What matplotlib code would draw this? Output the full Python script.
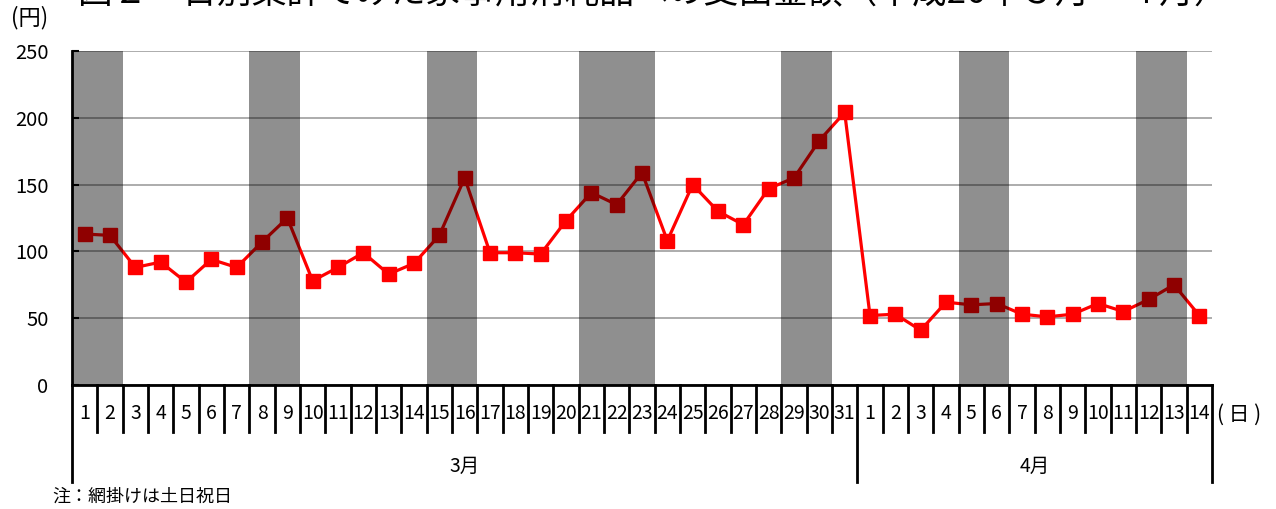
"""
Daily spending on household consumables, March-April, with weekend/holiday shading.
"""
import numpy as np
import matplotlib
matplotlib.use("Agg")
import matplotlib.pyplot as plt

plt.rcParams['font.family'] = ['Noto Sans CJK JP', 'DejaVu Sans']

# data
march_days = list(range(1, 32))
april_days = list(range(1, 15))
march_values = [113, 112, 88, 92, 77, 94, 88, 107, 125, 78,
                88, 99, 83, 91, 112, 155, 99, 99, 98, 123,
                144, 135, 159, 108, 150, 130, 120, 147, 155, 183, 204]
april_values = [52, 53, 41, 62, 60, 61, 53, 51, 53, 61, 55, 64, 75, 52]
march_holidays = [1, 2, 8, 9, 15, 16, 21, 22, 23, 29, 30]
april_holidays = [5, 6, 12, 13]
month_names = ['3月', '4月']
y_ticks = [0, 50, 100, 150, 200, 250]

title = '図２　日別集計でみた家事用消耗品への支出金額（平成26年３月～４月）'
note = '注：網掛けは土日祝日'

values = march_values + april_values
day_labels = [str(d) for d in march_days + april_days]
n = len(values)
x = np.arange(n)
holiday_idx = [d - 1 for d in march_holidays] + [len(march_days) + d - 1 for d in april_holidays]

fig = plt.figure(figsize=(12.76, 5.09), dpi=100)
ax = fig.add_axes([72 / 1276, 1 - 385 / 509, (1212 - 72) / 1276, 334 / 509])

ax.plot(x, values, color='#ff0000', linewidth=2.3, marker='s', markersize=9.5,
        zorder=3, clip_on=False)

# shading drawn on top, semi-transparent (darkens the line beneath)
for i in holiday_idx:
    ax.axvspan(i - 0.5, i + 0.5, color='black', alpha=0.44, linewidth=0, zorder=4)

ax.set_xlim(-0.5, n - 0.5)
ax.set_ylim(0, 250)
ax.set_yticks(y_ticks)
ax.grid(axis='y', color='#a6a6a6', linewidth=1.3, zorder=1)
ax.set_axisbelow(True)

for s in ['top', 'right']:
    ax.spines[s].set_visible(False)
ax.spines['left'].set_linewidth(2)
ax.spines['bottom'].set_linewidth(2)
ax.spines['left'].set_zorder(5)
ax.spines['bottom'].set_zorder(5)

ax.tick_params(axis='y', direction='in', length=5, width=1.5, labelsize=14.5, pad=17)
ax.tick_params(axis='x', bottom=False, labelbottom=False)

# category axis: day labels with separators, month groups below
trans = ax.get_xaxis_transform()
n_march = len(march_days)
for b in np.arange(n + 1) - 0.5:
    long_line = b in (-0.5, n_march - 0.5, n - 0.5)
    ax.plot([b, b], [0, -0.29 if long_line else -0.141], color='black', linewidth=2,
            transform=trans, clip_on=False, zorder=5)
for i, lab in enumerate(day_labels):
    ax.text(i, -0.084, lab, transform=trans, ha='center', va='center', fontsize=14)
ax.text((n_march - 1) / 2, -0.245, month_names[0], transform=trans,
        ha='center', va='center', fontsize=14)
ax.text(n_march + (len(april_days) - 1) / 2, -0.245, month_names[1], transform=trans,
        ha='center', va='center', fontsize=14)
ax.text(n - 0.5 + 0.2, -0.09, '( 日 )', transform=trans, ha='left', va='center', fontsize=15)

fig.text(30 / 1276, 1 - 18 / 509, '(円)', ha='center', va='center', fontsize=16)
fig.text(78 / 1276, 1 - 11 / 509, title, ha='left', va='bottom', fontsize=25)
fig.text(52 / 1276, 1 - 497 / 509, note, ha='left', va='center', fontsize=13)

fig.savefig('out.png', dpi=100)
